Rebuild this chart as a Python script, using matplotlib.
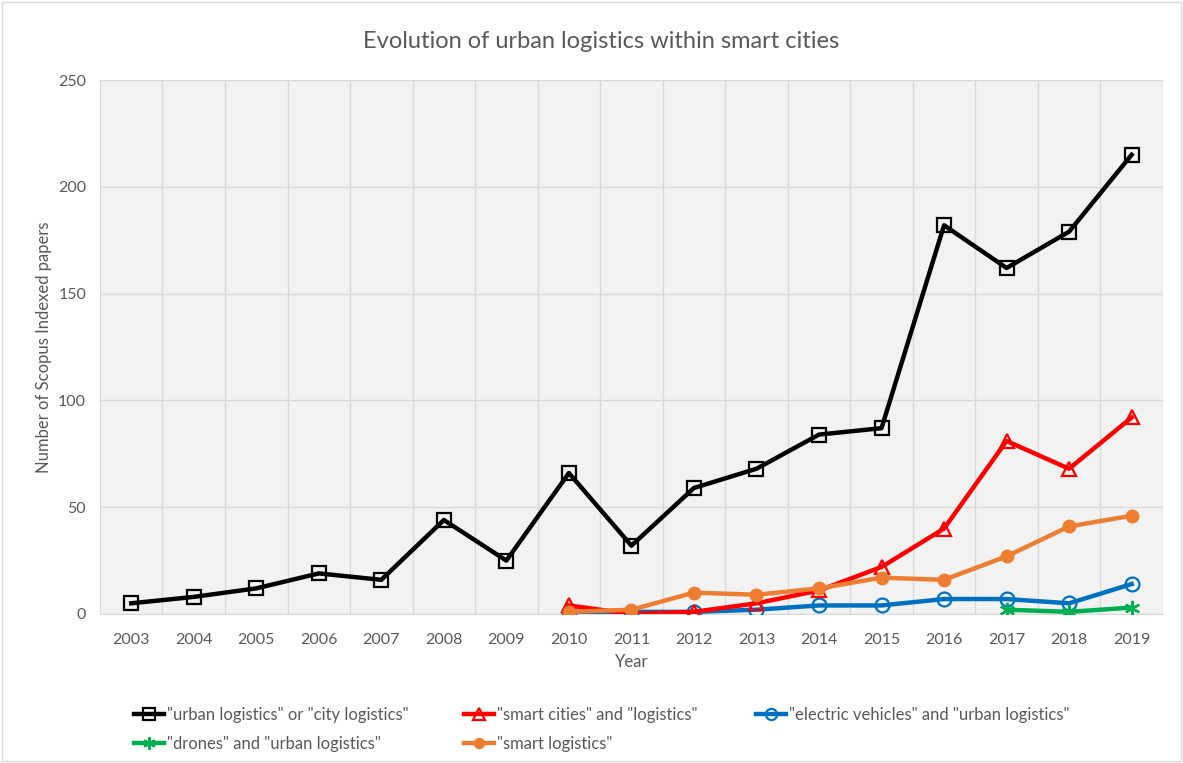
"""Evolution of urban logistics within smart cities."""

import matplotlib
matplotlib.use("Agg")
import matplotlib.pyplot as plt
from matplotlib.patches import Rectangle

plt.rcParams["font.family"] = ["Lato", "DejaVu Sans"]

YEARS = list(range(2003, 2020))
URBAN_YEARS = YEARS
URBAN = [5, 8, 12, 19, 16, 44, 25, 66, 32, 59, 68, 84, 87, 182, 162, 179, 215]
LATE_YEARS = list(range(2010, 2020))
SMART_CITIES = [4, 0, 1, 5, 11, 22, 40, 81, 68, 92]
ELECTRIC = [1, 1, 1, 2, 4, 4, 7, 7, 5, 14]
DRONE_YEARS = [2017, 2018, 2019]
DRONES = [2, 1, 3]
SMART_LOGISTICS = [1, 2, 10, 9, 12, 17, 16, 27, 41, 46]

TEXT_GRAY = "#595959"

fig = plt.figure(figsize=(11.83, 7.63), dpi=100)
fig.patches.append(Rectangle((0.002, 0.002), 0.996, 0.996, transform=fig.transFigure,
                             fill=False, edgecolor="#D9D9D9", linewidth=1))
ax = fig.add_axes([0.0845, 0.1953, 0.8985, 0.6998])
ax.set_facecolor("#F2F2F2")


def xpos(years):
    return [YEARS.index(y) for y in years]


h_urban, = ax.plot(xpos(URBAN_YEARS), URBAN, color="black", lw=3.2, marker="s", ms=10,
                   mfc="none", mec="black", mew=1.6, zorder=5,
                   label='"urban logistics" or "city logistics"')
h_smart, = ax.plot(xpos(LATE_YEARS), SMART_CITIES, color="#FF0000", lw=3.2, marker="^", ms=10,
                   mfc="none", mec="#FF0000", mew=1.6, zorder=4,
                   label='"smart cities" and "logistics"')
h_ev, = ax.plot(xpos(LATE_YEARS), ELECTRIC, color="#0070C0", lw=3.2, marker="o", ms=10,
                mfc="none", mec="#0070C0", mew=1.6, zorder=3,
                label='"electric vehicles" and "urban logistics"')
h_drone, = ax.plot(xpos(DRONE_YEARS), DRONES, color="#00B050", lw=3.2, marker=(6, 2, 0), ms=11,
                   mec="#00B050", mew=1.6, zorder=3,
                   label='"drones" and "urban logistics"')
h_sl, = ax.plot(xpos(LATE_YEARS), SMART_LOGISTICS, color="#ED7D31", lw=3.2, marker="o", ms=9,
                mfc="#ED7D31", mec="#ED7D31", zorder=4,
                label='"smart logistics"')

ax.set_xlim(-0.5, len(YEARS) - 0.5)
ax.set_ylim(0, 250)
ax.set_yticks(range(0, 251, 50))
ax.set_xticks(range(len(YEARS)))
ax.set_xticklabels([str(y) for y in YEARS])
ax.set_xticks([i - 0.5 for i in range(len(YEARS) + 1)], minor=True)
ax.grid(True, which="minor", axis="x", color="#D9D9D9", lw=1)
ax.grid(True, which="major", axis="y", color="#D9D9D9", lw=1)
ax.set_axisbelow(True)
ax.tick_params(which="both", length=0, colors=TEXT_GRAY, labelsize=11.5)
ax.tick_params(axis="x", pad=14)
ax.tick_params(axis="y", pad=10)
for side in ["top", "right", "left"]:
    ax.spines[side].set_visible(False)
ax.spines["bottom"].set_color("#D9D9D9")

ax.set_xlabel("Year", color=TEXT_GRAY, fontsize=12, labelpad=5)
ax.set_ylabel("Number of Scopus Indexed papers", color=TEXT_GRAY, fontsize=12, labelpad=4)
fig.text(0.508, 0.945, "Evolution of urban logistics within smart cities",
         ha="center", va="center", color=TEXT_GRAY, fontsize=17)

# one legend per column so the columns sit where the reference puts them
legend_columns = [
    (0.113, [h_urban, h_drone]),
    (0.392, [h_smart, h_sl]),
    (0.639, [h_ev]),
]
for x0, handles in legend_columns:
    fig.legend(handles, [h.get_label() for h in handles], loc="upper left",
               bbox_to_anchor=(x0, 0.074), frameon=False, fontsize=12,
               labelcolor=TEXT_GRAY, handlelength=1.8, handletextpad=0.2,
               borderaxespad=0, borderpad=0, labelspacing=0.8, markerscale=0.8)

fig.savefig("out.png", dpi=100)
